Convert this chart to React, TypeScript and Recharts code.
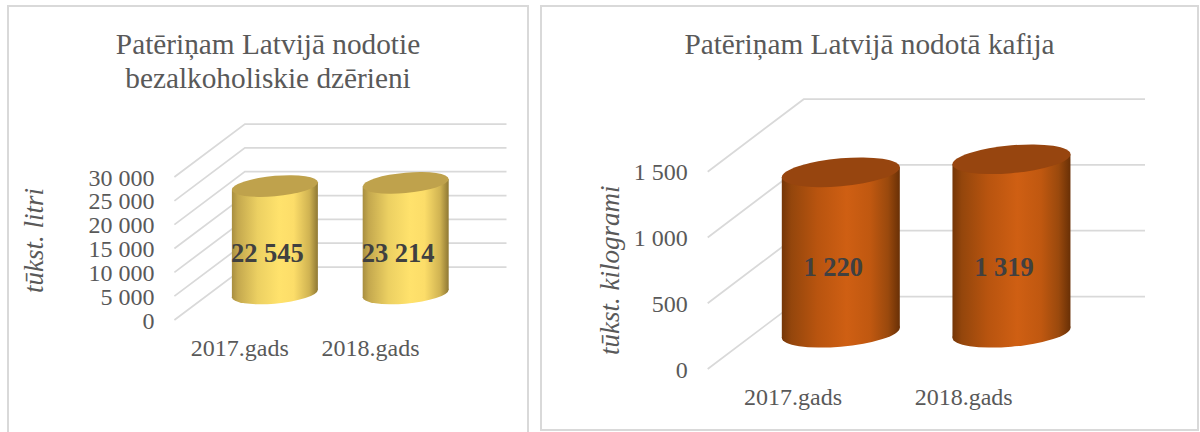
import React from 'react';
import { BarChart, Bar, XAxis, YAxis, CartesianGrid, LabelList } from 'recharts';

const categories = ['2017.gads', '2018.gads'];
const drinkValues = [22545, 23214];
const coffeeValues = [1220, 1319];
const drinkTicks = [0, 5000, 10000, 15000, 20000, 25000, 30000];
const coffeeTicks = [0, 500, 1000, 1500];
const drinkTitle = ['Patēriņam Latvijā nodotie', 'bezalkoholiskie dzērieni'];
const coffeeTitle = ['Patēriņam Latvijā nodotā kafija'];

const FONT = '"Liberation Serif", "Times New Roman", serif';
const TEXT = '#595959';

// "30000" -> "30 000"
const spaced = (v: number) => String(v).replace(/\B(?=(\d{3})+$)/g, ' ');

interface GradientStop {
  at: string;
  color: string;
}

const yellowStops: GradientStop[] = [
  { at: '0%', color: '#a88e40' },
  { at: '7%', color: '#c4a84e' },
  { at: '30%', color: '#ecd062' },
  { at: '55%', color: '#ffe26c' },
  { at: '72%', color: '#fcdd69' },
  { at: '90%', color: '#d0b352' },
  { at: '100%', color: '#8f7833' },
];

const orangeStops: GradientStop[] = [
  { at: '0%', color: '#753607' },
  { at: '8%', color: '#94460c' },
  { at: '30%', color: '#b8540f' },
  { at: '55%', color: '#cf5f13' },
  { at: '75%', color: '#c05810' },
  { at: '90%', color: '#9a490d' },
  { at: '100%', color: '#693006' },
];

interface PanelProps {
  id: string;
  left: number;
  top: number;
  width: number;
  height: number | string;
  chartHeight: number;
  title: string[];
  values: number[];
  ticks: number[];
  stops: GradientStop[];
  capColor: string;
  axisLabel: string;
  axisLabelDx: number;
  axisLabelDy: number;
  depthX: number;
  depthY: number;
  gap: string;
  margin: { top: number; right: number; bottom: number; left: number };
  yWidth: number;
  labelRise: number;
}

const Panel: React.FC<PanelProps> = (p) => {
  const data = categories.map((name, i) => ({ name, value: p.values[i] }));
  const capRy = p.depthY * 0.205;
  const capTilt = p.depthY * 0.07;

  // Cylinder standing halfway along the depth of the floor
  const renderCylinder = (s: any) => {
    const rx = s.width / 2;
    const cx = s.x + rx + p.depthX / 2;
    const topY = s.y - p.depthY / 2;
    const baseY = s.y + s.height - p.depthY / 2;
    const skew = Math.sqrt(capRy * capRy - capTilt * capTilt);
    const xl = cx - rx;
    const xr = cx + rx;
    return (
      <g>
        <circle
          r={1}
          fill={`url(#${p.id})`}
          transform={`matrix(${rx} ${-capTilt} 0 ${skew} ${cx} ${baseY})`}
        />
        <path
          d={`M${xl},${topY + capTilt} L${xr},${topY - capTilt} L${xr},${baseY - capTilt} L${xl},${baseY + capTilt} Z`}
          fill={`url(#${p.id})`}
        />
        <circle
          r={1}
          fill={p.capColor}
          transform={`matrix(${rx} ${-capTilt} 0 ${skew} ${cx} ${topY})`}
        />
      </g>
    );
  };

  const renderValue = (l: any) => {
    const box = l.viewBox ?? l;
    return (
      <text
        x={box.x + box.width / 2 + p.depthX / 2 - 7.5}
        y={box.y + box.height - p.labelRise}
        textAnchor="middle"
        dominantBaseline="central"
        fontFamily={FONT}
        fontSize={26.5}
        fontWeight="bold"
        fill="#404040"
      >
        {spaced(l.value)}
      </text>
    );
  };

  return (
    <div
      style={{
        position: 'absolute',
        left: p.left,
        top: p.top,
        width: p.width,
        height: p.height,
        boxSizing: 'border-box',
        border: '2px solid #d9d9d9',
        background: '#fff',
      }}
    >
      <div
        style={{
          position: 'absolute',
          left: 0,
          right: 0,
          top: 20,
          textAlign: 'center',
          fontFamily: FONT,
          fontSize: 29.3,
          lineHeight: '34px',
          color: TEXT,
        }}
      >
        {p.title.map((line) => (
          <div key={line}>{line}</div>
        ))}
      </div>
      <div style={{ position: 'absolute', left: -2, top: -2 }}>
        <BarChart
          width={p.width}
          height={p.chartHeight}
          data={data}
          margin={p.margin}
          barCategoryGap={p.gap}
        >
          <defs>
            <linearGradient id={p.id} x1="0" y1="0" x2="1" y2="0">
              {p.stops.map((s) => (
                <stop key={s.at} offset={s.at} stopColor={s.color} />
              ))}
            </linearGradient>
          </defs>
          <CartesianGrid
            vertical={false}
            horizontal={(g: any) => (
              <path
                key={g.key ?? g.y1}
                d={`M${g.x1},${g.y1} L${g.x1 + p.depthX},${g.y1 - p.depthY} L${g.x2 + p.depthX},${g.y2 - p.depthY}`}
                fill="none"
                stroke="#d9d9d9"
                strokeWidth={1.75}
              />
            )}
          />
          <XAxis
            dataKey="name"
            axisLine={false}
            tickLine={false}
            tickSize={0}
            tickMargin={19}
            height={40}
            interval={0}
            tick={{ fontFamily: FONT, fontSize: 24, fill: TEXT }}
          />
          <YAxis
            width={p.yWidth}
            domain={[0, p.ticks[p.ticks.length - 1]]}
            ticks={p.ticks}
            interval={0}
            axisLine={false}
            tickLine={false}
            tickSize={0}
            tickMargin={20}
            tickFormatter={spaced}
            tick={{ fontFamily: FONT, fontSize: 24, fill: TEXT }}
            label={{
              value: p.axisLabel,
              angle: -90,
              position: 'insideLeft',
              dx: p.axisLabelDx,
              dy: p.axisLabelDy,
              style: { fontFamily: FONT, fontSize: 27, fontStyle: 'italic', fill: TEXT, textAnchor: 'middle' },
            }}
          />
          <Bar dataKey="value" shape={renderCylinder} isAnimationActive={false}>
            <LabelList dataKey="value" content={renderValue} />
          </Bar>
        </BarChart>
      </div>
    </div>
  );
};

export default function App() {
  return (
    <div
      style={{
        position: 'absolute',
        left: 0,
        top: 0,
        width: 1200,
        height: 432,
        overflow: 'hidden',
        background: '#fff',
      }}
    >
      <Panel
        id="drinks"
        left={7}
        top={5}
        width={522}
        height={440}
        chartHeight={427}
        title={drinkTitle}
        values={drinkValues}
        ticks={drinkTicks}
        stops={yellowStops}
        capColor="#bfa24c"
        axisLabel="tūkst.  litri"
        axisLabelDx={21}
        axisLabelDy={-8}
        depthX={70.5}
        depthY={53}
        gap="17%"
        margin={{ top: 172, right: 93, bottom: 72, left: 0 }}
        yWidth={167.4}
        labelRise={67}
      />
      <Panel
        id="coffee"
        left={540}
        top={5}
        width={659}
        height={426}
        chartHeight={426}
        title={coffeeTitle}
        values={coffeeValues}
        ticks={coffeeTicks}
        stops={orangeStops}
        capColor="#97450f"
        axisLabel="tūkst.  kilogrami"
        axisLabelDx={64}
        axisLabelDy={0}
        depthX={96}
        depthY={72.5}
        gap="15.3%"
        margin={{ top: 166.7, right: 150, bottom: 22, left: 0 }}
        yWidth={167.7}
        labelRise={102}
      />
    </div>
  );
}
